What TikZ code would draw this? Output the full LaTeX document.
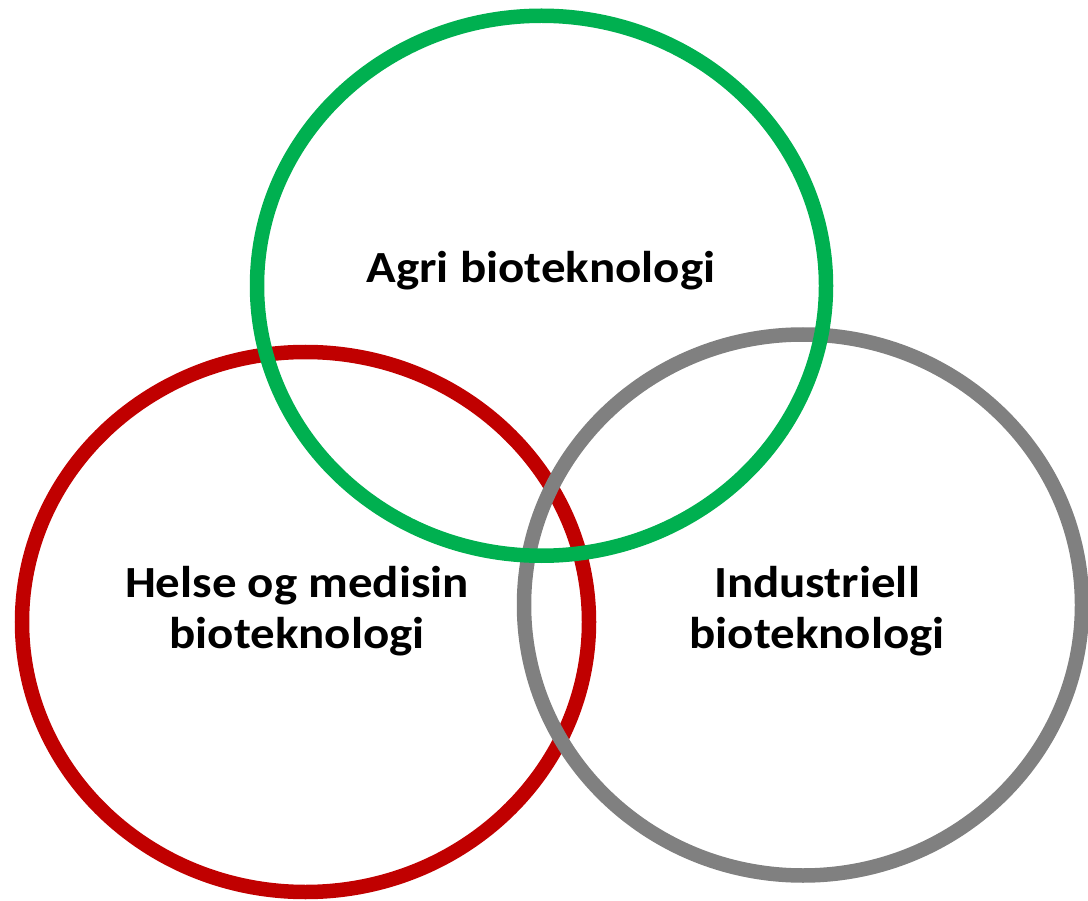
\documentclass[tikz,border=0pt]{standalone}
\usepackage{fontspec}
\setmainfont{Carlito}
\definecolor{agrigreen}{HTML}{00B050}
\definecolor{helsered}{HTML}{C00000}
\definecolor{indgrey}{HTML}{808080}
\tikzset{
  ring/.style={line width=14.5pt},
  lbl/.style={font=\fontsize{44.5}{51}\selectfont\bfseries, align=center, anchor=base, inner sep=0pt, text=black, xscale=1.1}
}
\begin{document}
\begin{tikzpicture}[x=1pt,y=-1pt]
\useasboundingbox (0,0) rectangle (1088,901);
\draw[ring, helsered] (305.5,622) ellipse [x radius=283.5, y radius=270];
\draw[ring, indgrey] (803,605) ellipse [x radius=279, y radius=270.5];
\draw[ring, agrigreen] (541.5,285.75) ellipse [x radius=284.5, y radius=270];
\node[lbl] (agri) at (541,282.7) {Agri bioteknologi};
\node[lbl] (helse) at (297,648) {Helse og medisin\\bioteknologi};
\node[lbl] (ind) at (817,648) {Industriell\\bioteknologi};
\end{tikzpicture}
\end{document}
